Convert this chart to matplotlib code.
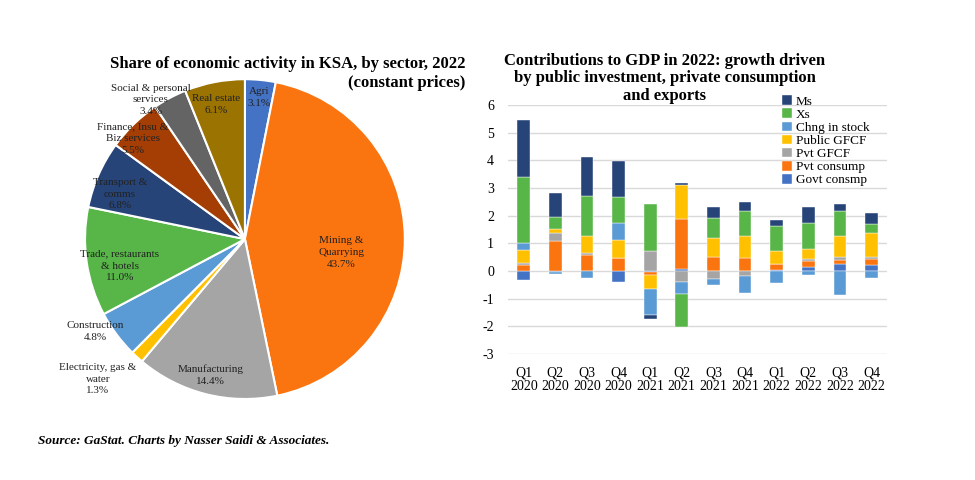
import numpy as np
import matplotlib
matplotlib.use("Agg")
import matplotlib.pyplot as plt

plt.rcParams['font.family'] = ['Liberation Serif', 'DejaVu Serif']
plt.rcParams['axes.unicode_minus'] = False

# Pie data: share of economic activity, 2022
sectors = ["Agri", "Mining &\nQuarrying", "Manufacturing", "Electricity, gas &\nwater",
           "Construction", "Trade, restaurants\n& hotels", "Transport &\ncomms",
           "Finance, Insu &\nBiz services", "Social & personal\nservices", "Real estate"]
shares = [3.1, 43.7, 14.4, 1.3, 4.8, 11.0, 6.8, 5.5, 3.4, 6.1]
pie_colors = ["#4472c4", "#fa7410", "#a5a5a5", "#ffc000", "#5b9bd5",
              "#58b548", "#264478", "#a43e04", "#646464", "#9a7300"]
# label placement: distance from centre (radius units) and angle shift from slice middle
label_dist = [0.89, 0.61, 0.88, 1.27, 1.10, 0.80, 0.83, 0.94, 1.05, 0.86]
label_shift = [0, -8, 0, -4, -5, 4, 4, 4, 6, 1]

# Bar data: contributions to GDP growth
quarters = ["Q1\n2020", "Q2\n2020", "Q3\n2020", "Q4\n2020", "Q1\n2021", "Q2\n2021",
            "Q3\n2021", "Q4\n2021", "Q1\n2022", "Q2\n2022", "Q3\n2022", "Q4\n2022"]
govt_consmp = [-0.33, -0.02, 0.0, -0.40, -0.05, 0.06, 0.0, 0.0, 0.05, 0.13, 0.24, 0.20]
pvt_consump = [0.22, 1.08, 0.58, 0.46, -0.09, 1.81, 0.52, 0.46, 0.20, 0.24, 0.16, 0.22]
pvt_gfcf = [0.06, 0.28, 0.06, 0.0, 0.72, -0.41, -0.29, -0.20, 0.0, 0.06, 0.12, 0.07]
public_gfcf = [0.48, 0.14, 0.64, 0.66, -0.50, 1.22, 0.66, 0.82, 0.47, 0.36, 0.76, 0.87]
chng_stock = [0.24, -0.08, -0.27, 0.60, -0.95, -0.41, -0.20, -0.59, -0.42, -0.15, -0.86, -0.25]
xs = [2.39, 0.46, 1.43, 0.96, 1.70, -1.20, 0.72, 0.87, 0.92, 0.95, 0.87, 0.33]
ms = [2.05, 0.84, 1.42, 1.30, -0.14, 0.08, 0.40, 0.35, 0.20, 0.58, 0.26, 0.42]

series = [("Govt consmp", govt_consmp, "#4472c4"),
          ("Pvt consump", pvt_consump, "#fa7410"),
          ("Pvt GFCF", pvt_gfcf, "#a5a5a5"),
          ("Public GFCF", public_gfcf, "#ffc000"),
          ("Chng in stock", chng_stock, "#5b9bd5"),
          ("Xs", xs, "#58b548"),
          ("Ms", ms, "#264478")]

fig = plt.figure(figsize=(9.75, 4.8), dpi=100)

# --- pie ---
ax1 = fig.add_axes([0.0462, 0.0854, 0.410, 0.833])
wedges, _ = ax1.pie(shares, colors=pie_colors, startangle=90, counterclock=False,
                    wedgeprops=dict(edgecolor="white", linewidth=1.5))
ax1.set_xlim(-1.25, 1.25)
ax1.set_ylim(-1.25, 1.25)
for w, name, val, d, sh in zip(wedges, sectors, shares, label_dist, label_shift):
    ang = np.deg2rad((w.theta1 + w.theta2) / 2 + sh)
    ax1.text(d * np.cos(ang), d * np.sin(ang), f"{name}\n{val:.1f}%",
             ha="center", va="center", fontsize=8, color="#222222", linespacing=1.4)

fig.text(0.477, 0.811, "Share of economic activity in KSA, by sector, 2022\n(constant prices)",
         ha="right", va="bottom", fontsize=12, fontweight="bold", linespacing=1.25)

# --- stacked bars ---
ax2 = fig.add_axes([0.521, 0.2625, 0.389, 0.519])
x = np.arange(len(quarters))
pos_base = np.zeros(len(quarters))
neg_base = np.zeros(len(quarters))
handles = []
for name, vals, col in series:
    v = np.array(vals)
    base = np.where(v >= 0, pos_base, neg_base)
    b = ax2.bar(x, v, 0.4, bottom=base, color=col, label=name,
                edgecolor="#ffffff", linewidth=0.3, zorder=3)
    handles.append(b)
    pos_base += np.where(v >= 0, v, 0)
    neg_base += np.where(v < 0, v, 0)

ax2.set_ylim(-3, 6)
ax2.set_xlim(-0.5, 11.5)
ax2.set_yticks(range(-3, 7))
ax2.set_xticks(x)
ax2.set_xticklabels(quarters, fontsize=10, linespacing=1.05)
ax2.tick_params(axis="y", labelsize=10, length=0, pad=10)
ax2.tick_params(axis="x", length=0, pad=9)
ax2.grid(axis="y", color="#d9d9d9", linewidth=1, zorder=0)
for s in ax2.spines.values():
    s.set_visible(False)

leg = ax2.legend(handles[::-1], [s[0] for s in series][::-1], loc="upper left",
                 bbox_to_anchor=(0.795, 0.815), bbox_transform=fig.transFigure,
                 frameon=False, fontsize=9.5, handlelength=0.75, handleheight=0.75,
                 handletextpad=0.3, labelspacing=0.05, borderpad=0)

fig.text(0.682, 0.784, "Contributions to GDP in 2022: growth driven\nby public investment, private consumption\nand exports",
         ha="center", va="bottom", fontsize=12, fontweight="bold", linespacing=1.1)

fig.text(0.039, 0.068, "Source: GaStat. Charts by Nasser Saidi & Associates.",
         ha="left", va="bottom", fontsize=9.5, fontweight="bold", fontstyle="italic")

fig.savefig("out.png", dpi=100)
